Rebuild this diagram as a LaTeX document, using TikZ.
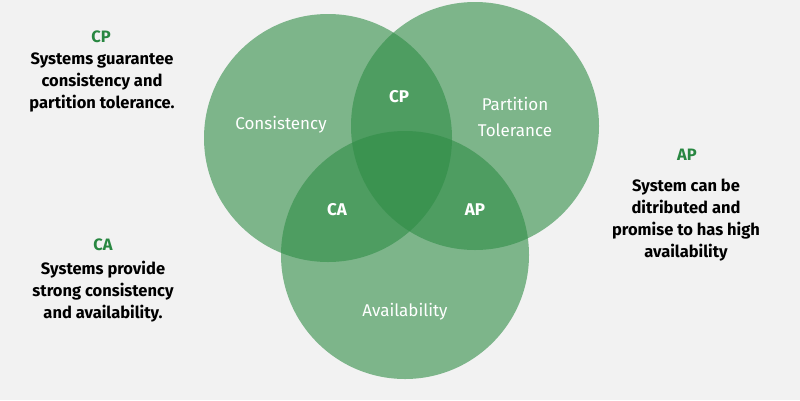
\documentclass[tikz,border=0pt]{standalone}
\usepackage{fontspec}
\setmainfont{Fira Sans}
\definecolor{gr}{RGB}{47,141,70}
\definecolor{bg}{RGB}{242,242,242}
\definecolor{tg}{RGB}{40,135,65}
\begin{document}
\begin{tikzpicture}[x=1pt,y=-1pt,
  circ/.style={fill=gr,fill opacity=0.6,draw=none},
  lab/.style={text=white,font=\fontsize{17}{20}\selectfont},
  blab/.style={text=white,font=\fontsize{17}{20}\selectfont\bfseries},
  side/.style={align=center,font=\fontsize{16.5}{22}\selectfont\bfseries,text=black},
  head/.style={font=\fontsize{16.5}{20}\selectfont\bfseries,text=tg}]
\fill[bg] (0,0) rectangle (800,400);
\useasboundingbox (0,0) rectangle (800,400);
\fill[circ] (328,138) circle (124);
\fill[circ] (475,126) circle (124);
\fill[circ] (405,255) circle (124);
\node[lab] (c) at (281,125) {Consistency};
\node[lab,align=center,font=\fontsize{17}{26}\selectfont] (p) at (515,117) {Partition\\Tolerance};
\node[lab] (a) at (405,312) {Availability};
\node[blab] (cp) at (399,97) {CP};
\node[blab] (ca) at (337,210) {CA};
\node[blab] (ap) at (475,210) {AP};
\node[head] (h1) at (101,37) {CP};
\node[side] (t1) at (102,82) {Systems guarantee\\consistency and\\partition tolerance.};
\node[head] (h2) at (103,245) {CA};
\node[side] (t2) at (103,292) {Systems provide\\strong consistency\\and availability.};
\node[head] (h3) at (687,155) {AP};
\node[side] (t3) at (686,220) {System can be\\ditributed and\\promise to has high\\availability};
\end{tikzpicture}
\end{document}
